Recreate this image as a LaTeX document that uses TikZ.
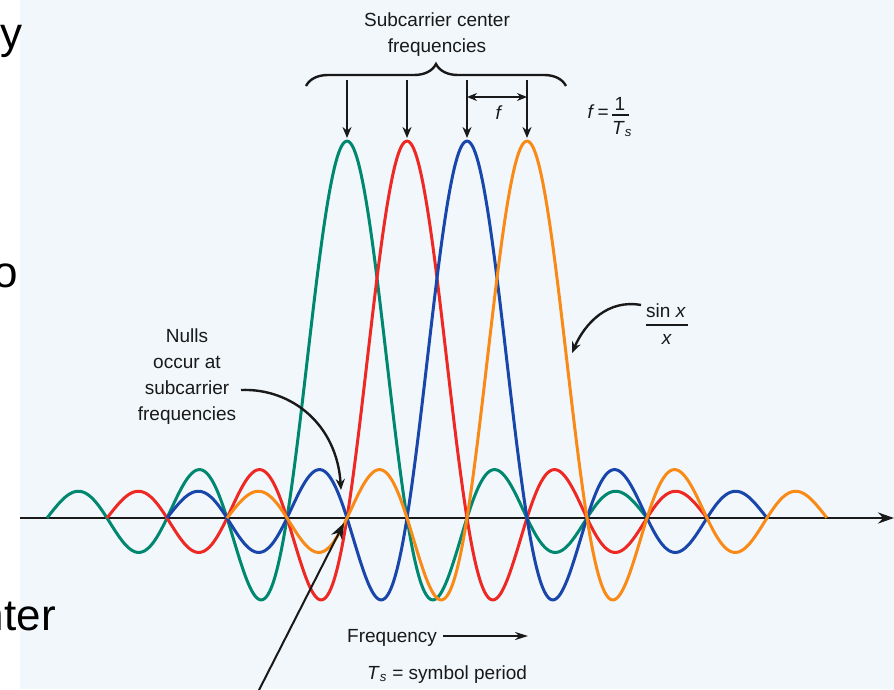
\documentclass[tikz,border=0pt]{standalone}
\usepackage{fontspec}
\setmainfont{Liberation Sans}
\usetikzlibrary{arrows.meta,decorations.pathreplacing}
\definecolor{bgblue}{RGB}{241,247,251}
\definecolor{cgreen}{RGB}{0,135,112}
\definecolor{cred}{RGB}{238,40,35}
\definecolor{cblue}{RGB}{25,70,170}
\definecolor{corange}{RGB}{250,138,22}
\definecolor{ink}{RGB}{25,25,25}
\begin{document}
\begin{tikzpicture}[x=1pt,y=-1pt,
  lbl/.style={font=\fontsize{19}{26}\selectfont, text=ink, inner sep=0pt, align=center},
  slide/.style={font=\fontsize{44}{50}\selectfont, text=black, inner sep=0pt},
  curve/.style={line width=3pt, line join=round},
  ptr/.style={line width=2.4pt, draw=ink, -{Stealth[length=11pt,width=9pt]}},
  fracbar/.style={line width=1.4pt, draw=ink}]
\useasboundingbox (0,0) rectangle (894,689);
\fill[bgblue] (20,0) rectangle (894,689);
\clip (0,0) rectangle (894,689);

% slide text fragments
\node[slide, anchor=base west] (sy) at (0,48) {y};
\node[slide, anchor=base west] (so) at (-7,287) {o};
\node[slide, anchor=base east] (snter) at (56,630) {nter};

% axis
\coordinate (axL) at (20,518);
\coordinate (axR) at (894,518);
\draw[line width=2.8pt, draw=ink, -{Stealth[length=16pt,width=11pt]}] (axL) -- (axR);

% sinc curves
\foreach \cc/\col in {347/cgreen,407/cred,467/cblue,527/corange}{
  \draw[curve, draw=\col] plot[domain=-5:5, samples=400]
    ({\cc+60*\x},{518-377*sin(180*\x)/(pi*\x)});
}

% brace and title
\coordinate (brL) at (306,86);
\coordinate (brR) at (566,86);
\draw[line width=2.4pt, draw=ink, decorate, decoration={brace, amplitude=22pt}] (brL) -- (brR);
\node[lbl, anchor=north] (title) at (437,13) {Subcarrier center\\frequencies};

% vertical arrows
\foreach \i/\xx in {1/347,2/407,3/467,4/527}{
  \coordinate (v\i s) at (\xx,80);
  \coordinate (v\i e) at (\xx,138);
  \draw[ptr] (v\i s) -- (v\i e);
}

% spacing f
\coordinate (fL) at (467,97);
\coordinate (fR) at (527,97);
\draw[line width=2.2pt, draw=ink, {Stealth[length=10pt,width=8pt]}-{Stealth[length=10pt,width=8pt]}] (fL) -- (fR);
\node[lbl, anchor=base] (flab) at (499,119) {\textit{f}};

% f = 1/Ts
\node[lbl, anchor=base east] (feq) at (609,118) {\textit{f}\,=};
\node[lbl, anchor=base] (one) at (620,110) {1};
\coordinate (barL) at (612,115);
\coordinate (barR) at (629,115);
\draw[fracbar] (barL) -- (barR);
\node[lbl, anchor=base] (Tsf) at (622,134) {\textit{T}\textsubscript{\textit{s}}};

% sin x / x
\node[lbl, anchor=base] (sinx) at (666,317) {sin \textit{x}};
\coordinate (sbL) at (646,325);
\coordinate (sbR) at (688,325);
\draw[fracbar] (sbL) -- (sbR);
\node[lbl, anchor=base] (xden) at (667,344) {\textit{x}};
\coordinate (sS) at (641,305);
\coordinate (sE) at (572,353);
\draw[ptr] (sS) .. controls (608,299) and (585,323) .. (sE);

% Nulls label
\node[lbl, anchor=north] (nulls) at (187,329) {Nulls\\occur at\\subcarrier\\frequencies};
\coordinate (nS) at (241,390);
\coordinate (nE) at (341,490);
\draw[ptr] (nS) .. controls (292,388) and (337,425) .. (nE);

% bottom arrow
\coordinate (bS) at (257,694);
\coordinate (bE) at (344,523);
\draw[line width=2pt, draw=ink, -{Stealth[length=16pt,width=12pt]}] (bS) -- (bE);

% frequency
\node[lbl, anchor=base west] (freq) at (347,642) {Frequency};
\coordinate (frS) at (443,636);
\coordinate (frE) at (528,636);
\draw[line width=2.2pt, draw=ink, -{Stealth[length=13pt,width=8pt]}] (frS) -- (frE);
\node[lbl, anchor=base west] (tsdef) at (367,679) {\textit{T}\textsubscript{\textit{s}} = symbol period};
\end{tikzpicture}
\end{document}
